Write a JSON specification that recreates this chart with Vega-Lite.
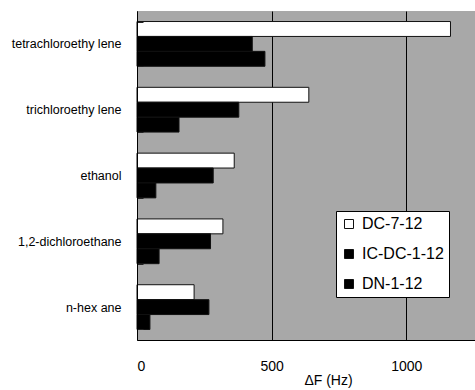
{
  "$schema": "https://vega.github.io/schema/vega-lite/v6.json",
  "width": 338,
  "height": 329,
  "autosize": {"type": "none"},
  "padding": {"left": 137, "top": 11, "right": 0, "bottom": 50},
  "background": "white",
  "config": {
    "font": "Liberation Sans",
    "view": {"fill": "#a8a8a8", "stroke": null}
  },
  "data": {
    "values": [
      {"compound": "tetrachloroethy lene", "series": "DC-7-12", "df": 1164},
      {"compound": "tetrachloroethy lene", "series": "IC-DC-1-12", "df": 428},
      {"compound": "tetrachloroethy lene", "series": "DN-1-12", "df": 475},
      {"compound": "trichloroethy lene", "series": "DC-7-12", "df": 638},
      {"compound": "trichloroethy lene", "series": "IC-DC-1-12", "df": 378},
      {"compound": "trichloroethy lene", "series": "DN-1-12", "df": 156},
      {"compound": "ethanol", "series": "DC-7-12", "df": 361},
      {"compound": "ethanol", "series": "IC-DC-1-12", "df": 283},
      {"compound": "ethanol", "series": "DN-1-12", "df": 70},
      {"compound": "1,2-dichloroethane", "series": "DC-7-12", "df": 319},
      {"compound": "1,2-dichloroethane", "series": "IC-DC-1-12", "df": 273},
      {"compound": "1,2-dichloroethane", "series": "DN-1-12", "df": 82},
      {"compound": "n-hex ane", "series": "DC-7-12", "df": 212},
      {"compound": "n-hex ane", "series": "IC-DC-1-12", "df": 267},
      {"compound": "n-hex ane", "series": "DN-1-12", "df": 48}
    ]
  },
  "mark": {"type": "bar", "stroke": "#111", "strokeWidth": 1},
  "encoding": {
    "y": {
      "field": "compound",
      "type": "nominal",
      "sort": ["tetrachloroethy lene", "trichloroethy lene", "ethanol", "1,2-dichloroethane", "n-hex ane"],
      "scale": {"paddingInner": 0.32, "paddingOuter": 0.16},
      "axis": {
        "title": null,
        "zindex": 1,
        "labelFontSize": 12.5,
        "labelColor": "black",
        "labelPadding": 22,
        "tickBand": "extent",
        "tickSize": -6,
        "tickWidth": 1,
        "tickColor": "#222",
        "domainColor": "black",
        "domainWidth": 1
      }
    },
    "yOffset": {
      "field": "series",
      "type": "nominal",
      "sort": ["DC-7-12", "IC-DC-1-12", "DN-1-12"],
      "scale": {"paddingInner": 0}
    },
    "x": {
      "field": "df",
      "type": "quantitative",
      "scale": {"domain": [0, 1255], "nice": false},
      "axis": {
        "title": "ΔF (Hz)",
        "titleFontSize": 14,
        "titleFontWeight": "normal",
        "titleColor": "black",
        "titleX": 191,
        "titleY": 33,
        "titleAlign": "center",
        "values": [0, 500, 1000],
        "format": "d",
        "labelFontSize": 14,
        "labelColor": "black",
        "labelPadding": 19,
        "ticks": false,
        "grid": true,
        "gridColor": "black",
        "gridOpacity": 1,
        "gridWidth": 1,
        "domainColor": "black"
      }
    },
    "color": {
      "field": "series",
      "type": "nominal",
      "scale": {"domain": ["DC-7-12", "IC-DC-1-12", "DN-1-12"], "range": ["white", "black", "black"]},
      "legend": {
        "title": null,
        "orient": "none",
        "legendX": 199,
        "legendY": 200,
        "fillColor": "white",
        "strokeColor": "black",
        "padding": 5,
        "symbolType": "square",
        "symbolSize": 81,
        "symbolStrokeColor": "#111",
        "symbolStrokeWidth": 1,
        "labelFontSize": 16,
        "labelColor": "black",
        "rowPadding": 14,
        "labelOffset": 5
      }
    }
  }
}
